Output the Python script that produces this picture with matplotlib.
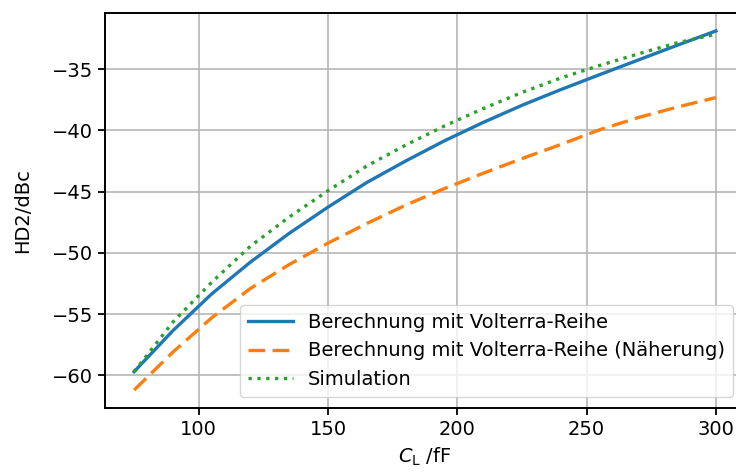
import numpy as np
import matplotlib
matplotlib.use("Agg")
import matplotlib.pyplot as plt

# Lastkapazität in fF
c_load = [75, 90, 105, 120, 135, 150, 165, 180, 195, 210, 225, 240, 255, 270, 285, 300]

# HD2 in dBc
hd2_volterra = [-59.7, -56.35, -53.35, -50.75, -48.4, -46.26, -44.25, -42.5,
                -40.85, -39.35, -37.95, -36.67, -35.45, -34.25, -33.05, -31.88]
hd2_naeherung = [-61.2, -58.1, -55.3, -52.9, -50.95, -49.2, -47.6, -46.1,
                 -44.75, -43.5, -42.3, -41.15, -39.95, -38.95, -38.1, -37.32]
hd2_sim = [-59.7, -55.65, -52.4, -49.45, -47.07, -44.92, -42.9, -41.2,
           -39.64, -38.22, -36.9, -35.72, -34.7, -33.75, -32.85, -32.15]

plt.rcParams['font.family'] = ['DejaVu Sans']
plt.rcParams['font.size'] = 14
plt.rcParams['axes.unicode_minus'] = True

fig = plt.figure(figsize=(7.36, 4.72), dpi=100)
ax = fig.add_axes([0.1427, 0.1356, 0.8696, 0.8369])

ax.plot(c_load, hd2_volterra, '-', color='#1f77b4', lw=2.4, label='Berechnung mit Volterra-Reihe')
ax.plot(c_load, hd2_naeherung, '--', color='#ff7f0e', lw=2.4, dashes=(5.0, 2.2),
        label='Berechnung mit Volterra-Reihe (Näherung)')
ax.plot(c_load, hd2_sim, ':', color='#2ca02c', lw=2.4, label='Simulation')

ax.set_xticks([100, 150, 200, 250, 300])
ax.set_yticks([-60, -55, -50, -45, -40, -35])
ax.grid(True, color='#b0b0b0', lw=1.1)
for s in ax.spines.values():
    s.set_linewidth(1.4)
ax.tick_params(width=1.3, length=5, labelsize=14)

ax.set_xlabel(r'$C_\mathrm{L}$ /fF', labelpad=5)
ax.set_ylabel('HD2/dBc', labelpad=14)
ax.legend(loc='lower right', fontsize=14, handlelength=2.3,
          bbox_to_anchor=(733 / 736, 75 / 472), bbox_transform=fig.transFigure,
          borderaxespad=0)

fig.savefig('out.png', dpi=100)
